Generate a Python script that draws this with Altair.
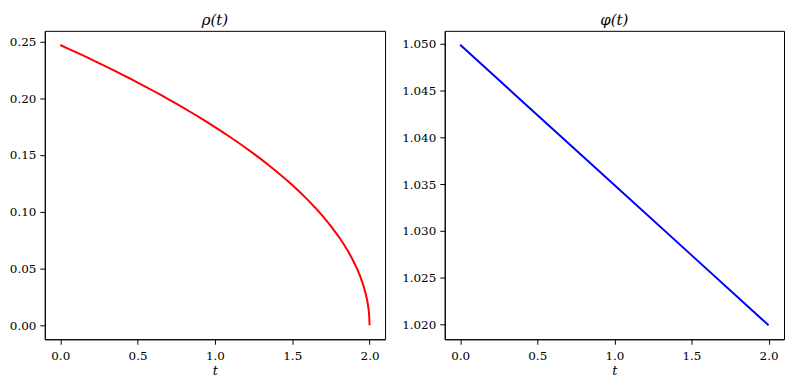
import altair as alt
import pandas as pd

# rho(t)
t_rho = [0.0, 0.05, 0.1, 0.15, 0.2, 0.25, 0.3, 0.35, 0.4, 0.45, 0.5, 0.55, 0.6, 0.65, 0.7, 0.75,
         0.8, 0.85, 0.9, 0.95, 1.0, 1.05, 1.1, 1.15, 1.2, 1.25, 1.3, 1.35, 1.4, 1.45, 1.5, 1.55,
         1.6, 1.65, 1.7, 1.75, 1.8, 1.83, 1.86, 1.89, 1.92, 1.94, 1.96, 1.975, 1.985, 1.992,
         1.997, 2.0]
rho = [0.2469, 0.2438, 0.2407, 0.2375, 0.2342, 0.2310, 0.2277, 0.2243, 0.2208, 0.2174, 0.2138,
       0.2103, 0.2066, 0.2029, 0.1991, 0.1952, 0.1913, 0.1872, 0.1831, 0.1789, 0.1746, 0.1702,
       0.1656, 0.1610, 0.1562, 0.1512, 0.1461, 0.1408, 0.1352, 0.1295, 0.1235, 0.1171, 0.1104,
       0.1033, 0.0956, 0.0873, 0.0781, 0.0720, 0.0653, 0.0579, 0.0494, 0.0428, 0.0349, 0.0276,
       0.0214, 0.0156, 0.0096, 0.0]

# phi(t)
t_phi = [0.0, 0.5, 1.0, 1.5, 2.0]
phi = [1.0499, 1.0424, 1.0349, 1.0274, 1.0199]

x_ticks = [0.0, 0.5, 1.0, 1.5, 2.0]
rho_ticks = [0.00, 0.05, 0.10, 0.15, 0.20, 0.25]
phi_ticks = [1.020, 1.025, 1.030, 1.035, 1.040, 1.045, 1.050]

df_rho = pd.DataFrame({"t": t_rho, "rho": rho})
df_phi = pd.DataFrame({"t": t_phi, "phi": phi})

FONT = "DejaVu Serif"


def xenc():
    return alt.X(
        "t:Q",
        scale=alt.Scale(domain=[-0.1, 2.1], nice=False, zero=False),
        axis=alt.Axis(values=x_ticks, format=".1f", title="t", titleFontStyle="italic",
                      titleFontWeight="normal", titleFontSize=13, titlePadding=3,
                      labelPadding=6),
    )


def title(txt):
    return alt.Title(txt, font=FONT, fontSize=15, fontStyle="italic", fontWeight="normal",
                     color="black", anchor="middle", offset=3)


left = alt.Chart(df_rho, title=title("ρ(t)")).mark_line(color="#ff0000", strokeWidth=2, clip=True).encode(
    x=xenc(),
    y=alt.Y("rho:Q", scale=alt.Scale(domain=[-0.0124, 0.2594], nice=False, zero=False),
            axis=alt.Axis(values=rho_ticks, format=".2f", title=None, minExtent=36, maxExtent=36)),
).properties(width=342, height=310)

right = alt.Chart(df_phi, title=title("φ(t)")).mark_line(color="#0000ff", strokeWidth=2, clip=True).encode(
    x=xenc(),
    y=alt.Y("phi:Q", scale=alt.Scale(domain=[1.0184, 1.0514], nice=False, zero=False),
            axis=alt.Axis(values=phi_ticks, format=".3f", title=None, minExtent=41, maxExtent=41)),
).properties(width=341, height=310)

chart = alt.hconcat(left, right, spacing=15).properties(
    padding={"left": 0, "top": 3, "right": 0, "bottom": 0}
).configure_view(stroke="black", strokeWidth=1).configure_axis(
    grid=False,
    domainColor="black",
    domainWidth=1,
    tickColor="black",
    tickWidth=1,
    tickSize=5,
    labelColor="black",
    labelFont=FONT,
    labelFontSize=12,
    labelPadding=4,
    titleFont=FONT,
    titleColor="black",
)

chart.save("out.html", embed_options={"renderer": "svg", "actions": False})
